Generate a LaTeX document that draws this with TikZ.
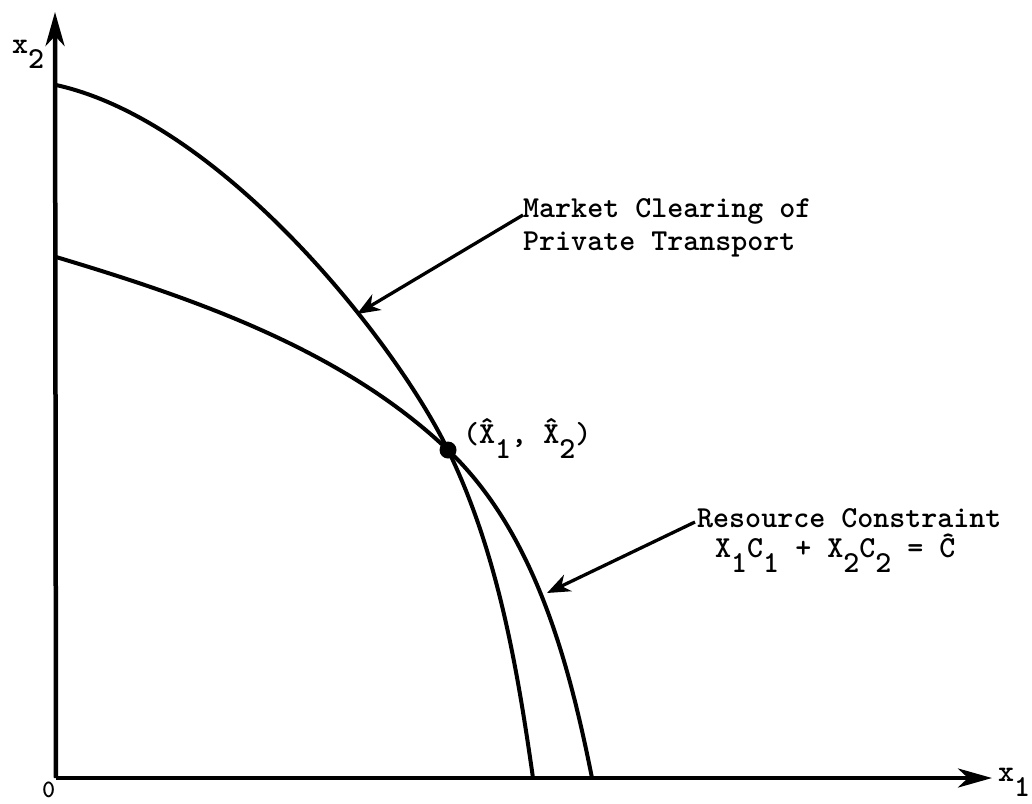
\documentclass[tikz,border=0pt]{standalone}
\usetikzlibrary{arrows.meta}
\newcommand\tsub[1]{\raisebox{-0.5em}{#1}}
\newcommand\hX{\rlap{\raisebox{0.19em}{\symbol{"02C6}}}X}
\tikzset{
  lbl/.style={font=\fontsize{30.5}{33}\selectfont\ttfamily\bfseries, inner sep=0pt, anchor=base west},
  axis/.style={line width=4.5pt, -{Stealth[length=34pt,width=19pt,inset=10pt]}},
  curve/.style={line width=4pt, line join=round, line cap=round},
  callout/.style={line width=3.3pt, -{Stealth[length=23pt,width=18pt,inset=7pt]}},
}
\begin{document}
\begin{tikzpicture}[x=1pt,y=-1pt]
\useasboundingbox (0,0) rectangle (1032,803);
% axes
\coordinate (O) at (56,778);
\coordinate (ytop) at (55,12);
\coordinate (xend) at (992,778);
\draw[axis] (O) -- (ytop);
\draw[axis] (O) -- (xend);
% market clearing curve
\draw[curve] (56,85) .. controls (222,121.6) and (395.6,342) .. (448,450)
  .. controls (497.4,551.7) and (517,666) .. (533,778);
% resource constraint curve
\draw[curve] (56,257) .. controls (195,298.6) and (343,350) .. (448,450)
  .. controls (534.3,532) and (568.7,661.3) .. (592,778);
% equilibrium point
\node[circle, fill, minimum size=17pt, inner sep=0pt] (eq) at (448,450) {};
% labels
\node[lbl] (x2) at (12,53) {x\tsub{2}};
\node[lbl] (x1) at (998,781) {x\tsub{1}};
\node[lbl, font=\fontsize{25}{30}\selectfont\ttfamily\bfseries] (zero) at (42,797) {0};
\node[lbl] (pt) at (463,443) {(\hX\tsub{1}, \hX\tsub{2})};
\node[lbl] (mc1) at (523,217) {Market Clearing of};
\node[lbl] (mc2) at (523,250) {Private Transport};
\node[lbl] (rc1) at (697,527) {Resource Constraint};
\node[lbl] (rc2) at (715,557) {X\tsub{1}C\tsub{1} + X\tsub{2}C\tsub{2} = \^{C}};
% callouts
\coordinate (mctip) at (357,314);
\coordinate (rctip) at (547,593);
\draw[callout] ([yshift=2pt]mc1.base west) -- (mctip);
\draw[callout] ([xshift=-2pt,yshift=5pt]rc1.base west) -- (rctip);
\end{tikzpicture}
\end{document}
